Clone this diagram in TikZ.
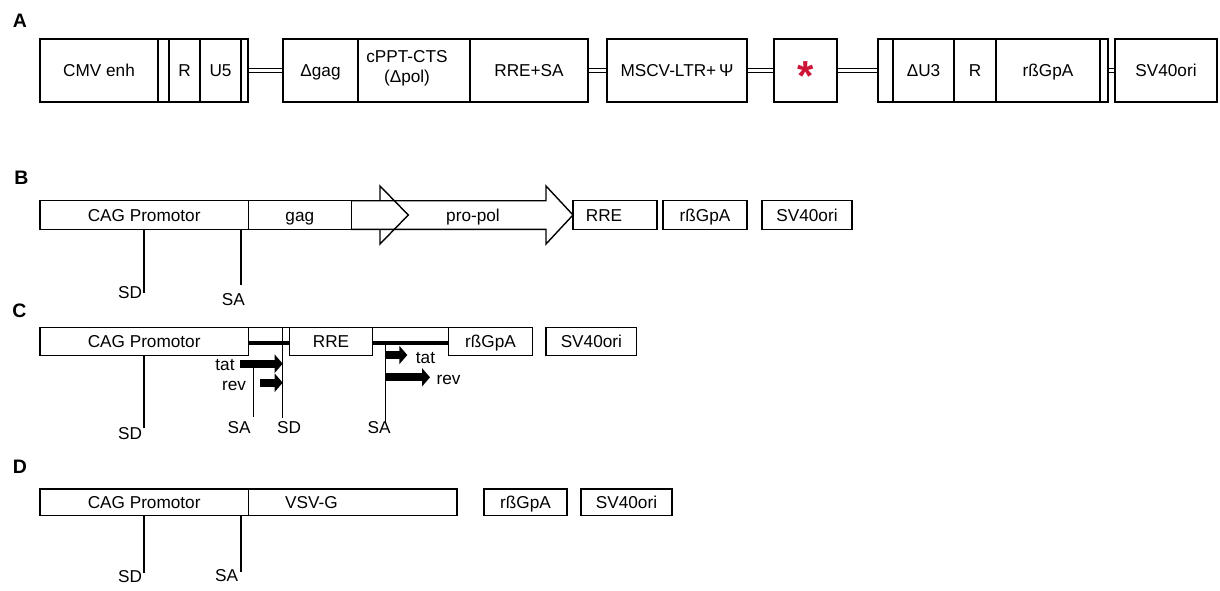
\documentclass[tikz,border=0pt]{standalone}
\usepackage{fontspec}
\setmainfont{Liberation Sans}
\usetikzlibrary{arrows.meta}
\definecolor{starred}{RGB}{205,20,55}
\begin{document}
\begin{tikzpicture}[x=1pt,y=-1pt,
  every node/.style={font=\fontsize{17.2}{20}\selectfont, inner sep=0pt, outer sep=0pt},
  seg/.style={draw, line width=1.4pt, rectangle, anchor=north west, text height=12.3pt, text depth=0pt},
  lab/.style={text height=12.3pt, text depth=0pt},
  panel/.style={font=\fontsize{19.5}{20}\selectfont\bfseries, text height=14pt, text depth=0pt},
  ln/.style={line width=1.4pt},
  thickln/.style={line width=3.8pt},
  fatarr/.style={line width=8pt, -{Triangle[length=8pt,width=18pt]}},
]
\useasboundingbox (0,0) rectangle (1220,590);

% ---------------- A ----------------
\node[panel] (pA) at (20,20.7) {A};
\begin{scope}[every node/.append style={minimum height=63pt}]
\node[seg, minimum width=118pt] (cmv) at (40,39) {CMV enh};
\node[seg, minimum width=11pt] (a1) at (158,39) {};
\node[seg, minimum width=31pt] (aR) at (169,39) {R};
\node[seg, minimum width=41pt] (aU5) at (200,39) {U5};
\node[seg, minimum width=7pt] (a2) at (241,39) {};
\node[seg, minimum width=75pt] (dgag) at (283,39) {Δgag};
\node[seg, minimum width=112pt] (cppt) at (358,39) {};
\node[seg, minimum width=118pt] (rresa) at (470,39) {RRE+SA};
\node[seg, minimum width=140pt] (mscv) at (607,39) {MSCV-LTR+\,Ψ};
\node[seg, minimum width=63pt] (star) at (774,39) {};
\node[seg, minimum width=15pt] (a3) at (878,39) {};
\node[seg, minimum width=61pt] (du3) at (893,39) {ΔU3};
\node[seg, minimum width=42pt] (aR2) at (954,39) {R};
\node[seg, minimum width=104pt] (arbg) at (996,39) {rßGpA};
\node[seg, minimum width=8pt] (a4) at (1100,39) {};
\node[seg, minimum width=102pt] (asv) at (1115,39) {SV40ori};
\end{scope}
\node[align=center, anchor=north] (cppttxt) at (407,50) {cPPT-CTS\\(Δpol)};
\node[anchor=base, text=starred, font=\fontsize{42}{42}\selectfont\bfseries] (asterisk) at (805.5,90) {*};
\foreach \p/\q in {a2/dgag, rresa/mscv, mscv/star, star/a3, a4/asv}{
  \draw[ln] ([yshift=2.2pt]\p.east) -- ([yshift=2.2pt]\q.west);
  \draw[ln] ([yshift=-2.2pt]\p.east) -- ([yshift=-2.2pt]\q.west);
}

% ---------------- B ----------------
\node[panel] (pB) at (21.5,177.5) {B};
\begin{scope}[every node/.append style={minimum height=28.6pt}]
\node[seg, minimum width=208.3pt] (cagB) at (40,200.7) {CAG Promotor};
\node[seg, minimum width=103pt] (gagB) at (248.3,200.7) {gag};
\node[seg, minimum width=84pt] (rreB) at (573,200.7) {};
\node[seg, minimum width=84pt] (rbgB) at (663,200.7) {rßGpA};
\node[seg, minimum width=90pt] (svB) at (762,200.7) {SV40ori};
\end{scope}
\node[lab] (rreBtxt) at (604,215) {RRE};
\draw[ln, line join=miter] (gagB.north east) -- (546,200.7) -- (546,186) -- (rreB.west) -- (546,244) -- (546,229.3) -- (gagB.south east);
\draw[ln, line join=miter] (380,200.7) -- (380,186) -- (408.3,215) -- (380,244) -- (380,229.3);
\node[lab] (propol) at (473,215) {pro-pol};
\coordinate (sdBend) at (144,293);
\coordinate (saBend) at (241,285);
\draw[ln] (cagB.south -| sdBend) -- (sdBend);
\draw[ln] (cagB.south -| saBend) -- (saBend);
\node[lab] (sdB) at (130,292.2) {SD};
\node[lab] (saB) at (233.3,299.7) {SA};

% ---------------- C ----------------
\node[panel] (pC) at (19.5,310) {C};
\begin{scope}[every node/.append style={minimum height=28.4pt}]
\node[seg, minimum width=208.3pt] (cagC) at (40,327.3) {CAG Promotor};
\node[seg, minimum width=83.4pt] (rreC) at (289.3,327.3) {RRE};
\node[seg, minimum width=84.4pt] (rbgC) at (448.3,327.3) {rßGpA};
\node[seg, minimum width=90.7pt] (svC) at (546,327.3) {SV40ori};
\end{scope}
\draw[ln] (cagC.north east) -- (rreC.north west);
\draw[ln] (rreC.north east) -- (rbgC.north west);
\draw[thickln] (cagC.east |- 0,342.7) -- (rreC.west |- 0,342.7);
\draw[thickln] (rreC.east |- 0,342.7) -- (rbgC.west |- 0,342.7);
% left splice sites
\coordinate (sdC1) at (144,428);
\draw[ln] (cagC.south -| sdC1) -- (sdC1);
\node[lab] (sdC1t) at (130,433) {SD};
\coordinate (sdC2top) at (282.7,327.3);
\coordinate (sdC2) at (282.7,418.3);
\draw[ln] (sdC2top) -- (sdC2);
\node[lab] (sdC2t) at (289,427) {SD};
\coordinate (saC1top) at (253.3,367);
\coordinate (saC1) at (253.3,416.7);
\draw[ln] (saC1top) -- (saC1);
\node[lab] (saC1t) at (239,427) {SA};
% left tat / rev arrows
\coordinate (tatL0) at (240,363.7);
\coordinate (revL0) at (260,382.7);
\draw[fatarr] (tatL0) -- (tatL0 -| sdC2);
\draw[fatarr] (revL0) -- (revL0 -| sdC2);
\node[lab] (tatLt) at (225,364) {tat};
\node[lab] (revLt) at (234,384.5) {rev};
% right splice site and arrows
\coordinate (saC2top) at (385.7,342.7);
\coordinate (saC2) at (385.7,423);
\draw[ln] (saC2top) -- (saC2);
\node[lab] (saC2t) at (379,427.5) {SA};
\coordinate (tatR1) at (407.3,355);
\coordinate (revR1) at (430,377.3);
\draw[fatarr] (saC2 |- tatR1) -- (tatR1);
\draw[fatarr] (saC2 |- revR1) -- (revR1);
\node[lab] (tatRt) at (425.5,357) {tat};
\node[lab] (revRt) at (448.5,378) {rev};

% ---------------- D ----------------
\node[panel] (pD) at (20,466) {D};
\begin{scope}[every node/.append style={minimum height=26.7pt}]
\node[seg, minimum width=208.3pt] (cagD) at (40,489) {CAG Promotor};
\node[seg, minimum width=208.7pt] (vsv) at (248.3,489) {};
\node[seg, minimum width=83pt] (rbgD) at (484,489) {rßGpA};
\node[seg, minimum width=91pt] (svD) at (581,489) {SV40ori};
\end{scope}
\node[lab] (vsvtxt) at (311.5,502.3) {VSV-G};
\coordinate (sdDend) at (144,573);
\coordinate (saDend) at (241,572);
\draw[ln] (cagD.south -| sdDend) -- (sdDend);
\draw[ln] (cagD.south -| saDend) -- (saDend);
\node[lab] (sdD) at (130,576.7) {SD};
\node[lab] (saD) at (226.7,575) {SA};
\end{tikzpicture}
\end{document}
